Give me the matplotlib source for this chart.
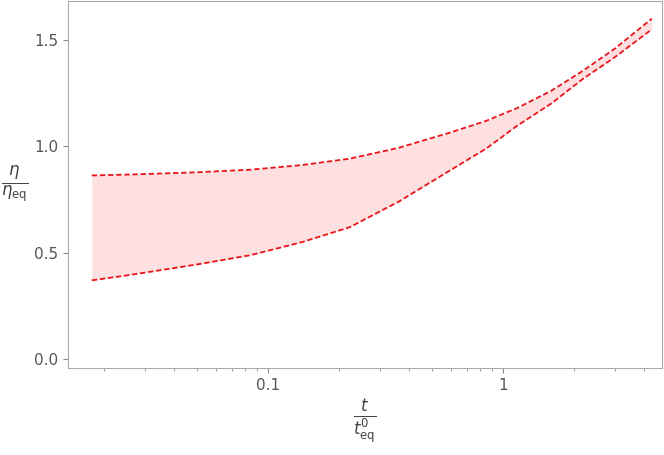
import matplotlib.pyplot as plt
from matplotlib.ticker import FixedLocator, NullFormatter, LogLocator

t = [0.0178, 0.025, 0.035, 0.05, 0.084, 0.14, 0.223, 0.36, 0.594, 0.85,
     1.15, 1.6, 2.19, 3.0, 4.3]
eta_upper = [0.863, 0.867, 0.872, 0.878, 0.89, 0.912, 0.942, 0.993, 1.064, 1.12,
             1.18, 1.26, 1.355, 1.46, 1.60]
eta_lower = [0.37, 0.393, 0.418, 0.445, 0.488, 0.55, 0.62, 0.74, 0.886, 0.99,
             1.097, 1.20, 1.317, 1.42, 1.55]

fig = plt.figure(figsize=(6.64, 4.55), dpi=100)
ax = fig.add_axes([68 / 664, 1 - 368 / 455, 594 / 664, 367 / 455])

ax.fill_between(t, eta_lower, eta_upper, color="#ffe0e0", lw=0)
ax.plot(t, eta_upper, "--", color="#e8161b", lw=1.3, dashes=(3, 1.5))
ax.plot(t, eta_lower, "--", color="#e8161b", lw=1.3, dashes=(3, 1.5))

ax.set_xscale("log")
ax.set_xlim(0.0141, 4.75)
ax.set_ylim(-0.042, 1.683)
ax.xaxis.set_major_locator(FixedLocator([0.1, 1]))
ax.set_xticklabels(["0.1", "1"])
ax.xaxis.set_minor_locator(LogLocator(base=10, subs=range(2, 10)))
ax.xaxis.set_minor_formatter(NullFormatter())
ax.set_yticks([0.0, 0.5, 1.0, 1.5])
ax.set_yticklabels(["0.0", "0.5", "1.0", "1.5"])

grey = "#888888"
for s in ax.spines.values():
    s.set_color("#aaaaaa")
ax.tick_params(colors=grey, labelcolor="#555555", labelsize=11)
ax.tick_params(which="minor", colors=grey)

ax.set_xlabel(r"$\frac{t}{t^0_{\rm eq}}$", fontsize=17, color="#444444")
ax.set_ylabel(r"$\frac{\eta}{\eta_{\rm eq}}$", fontsize=17, color="#444444",
              rotation=0, labelpad=14, va="center")

fig.savefig("out.png", dpi=100)
